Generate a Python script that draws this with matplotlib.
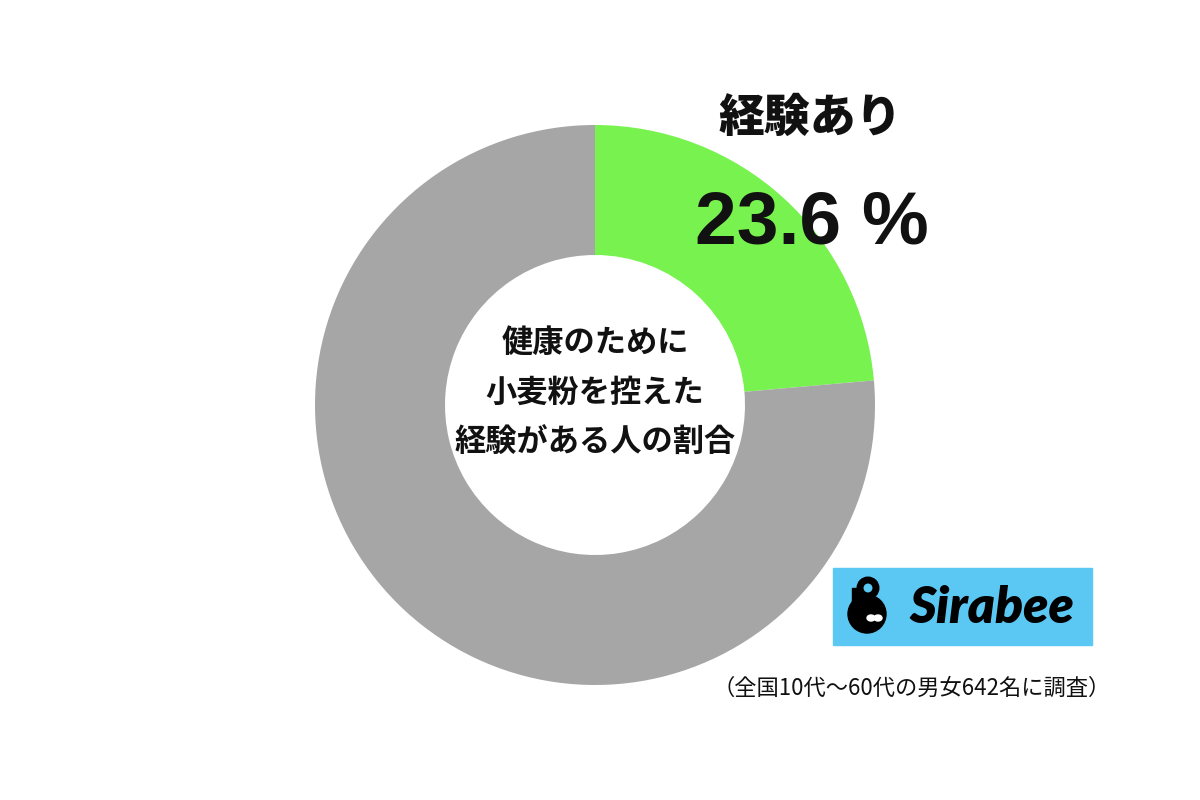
import matplotlib.pyplot as plt
from matplotlib.patches import Rectangle, Circle, Ellipse

plt.rcParams['font.family'] = ['Noto Sans CJK JP', 'DejaVu Sans']

# data
labels = ['経験あり', 'その他']
values = [23.6, 76.4]
colors = ['#77F24F', '#A6A6A6']
center_lines = ['健康のために', '小麦粉を控えた', '経験がある人の割合']
headline = '経験あり'
value_text = '23.6 %'
note = '（全国10代～60代の男女642名に調査）'

W, H = 1200, 800
fig = plt.figure(figsize=(12, 8), dpi=100)
ax = fig.add_axes([0, 0, 1, 1])

# donut, clockwise from 12 o'clock (y axis is flipped, so counterclock=True draws clockwise)
cx, cy, r_out, r_in = 595, 405, 280, 150
ax.pie(values, colors=colors, startangle=-90, counterclock=True,
       center=(cx, cy), radius=r_out, frame=True,
       wedgeprops=dict(width=r_out - r_in, linewidth=0))
ax.set_xlim(0, W)
ax.set_ylim(H, 0)
ax.set_aspect('equal')
ax.axis('off')

# text in the hole
for i, line in enumerate(center_lines):
    ax.text(cx, 343 + i * 50, line, ha='center', va='center',
            fontsize=22.5, fontweight='bold', color='#111111')

# headline and value
ax.text(810, 118, headline, ha='center', va='center',
        fontsize=33, fontweight='black', color='#111111')
ax.text(812, 224, value_text, ha='center', va='center',
        fontsize=54, fontweight='bold', color='#111111',
        family=['Liberation Sans', 'Noto Sans CJK JP'])

# Sirabee logo
ax.add_patch(Rectangle((833, 568), 259, 77, color='#5BC8F3', zorder=3))
ax.add_patch(Circle((867, 614), 19, color='black', zorder=4))
ax.add_patch(Circle((868, 588), 8, fill=False, lw=5, ec='black', zorder=4))
ax.add_patch(Rectangle((852, 588), 9, 22, color='black', zorder=4))
ax.add_patch(Ellipse((871, 618), 8, 6, color='white', zorder=5))
ax.add_patch(Ellipse((878, 618), 8, 6, color='white', zorder=5))
ax.text(992, 608, 'Sirabee', ha='center', va='center', fontsize=37,
        fontweight='heavy', style='italic', color='black', zorder=5,
        family=['Lato', 'DejaVu Sans'])

# footnote
ax.text(912, 688, note, ha='center', va='center', fontsize=16, color='#111111')

fig.savefig('out.png', dpi=100, facecolor='white')
